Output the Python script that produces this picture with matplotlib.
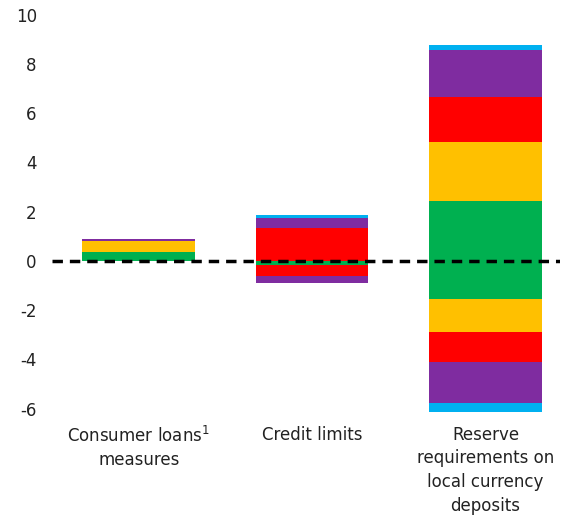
import numpy as np
import matplotlib.pyplot as plt

# categories and stacked values (positive and negative parts per colour)
categories = ['Consumer loans$^{\\mathregular{1}}$\nmeasures', 'Credit limits',
              'Reserve\nrequirements on\nlocal currency\ndeposits']
series = ['green', 'yellow', 'red', 'purple', 'cyan']
pos_vals = {
    'green':  [0.38, 0.00, 2.43],
    'yellow': [0.45, 0.00, 2.41],
    'red':    [0.00, 1.33, 1.81],
    'purple': [0.08, 0.43, 1.94],
    'cyan':   [0.00, 0.10, 0.18],
}
neg_vals = {
    'green':  [0.00, -0.18, -1.53],
    'yellow': [0.00, 0.00, -1.34],
    'red':    [0.00, -0.44, -1.23],
    'purple': [0.00, -0.29, -1.66],
    'cyan':   [0.00, 0.00, -0.36],
}
colors = {'green': '#00B050', 'yellow': '#FFC000', 'red': '#FF0000',
          'purple': '#7F2CA0', 'cyan': '#00B0F0'}
yticks = [-6, -4, -2, 0, 2, 4, 6, 8, 10]

plt.rcParams['font.family'] = ['DejaVu Sans']
plt.rcParams['mathtext.fontset'] = 'dejavusans'
fig = plt.figure(figsize=(5.73, 5.16), dpi=100)
ax = fig.add_axes([0.0908, 0.1938, 0.8866, 0.787])

x = np.arange(len(categories))
pos_base = np.zeros(len(categories))
neg_base = np.zeros(len(categories))
for s in series:
    p = np.array(pos_vals[s])
    n = np.array(neg_vals[s])
    ax.bar(x, p, 0.65, bottom=pos_base, color=colors[s])
    ax.bar(x, n, 0.65, bottom=neg_base, color=colors[s])
    pos_base += p
    neg_base += n

ax.axhline(0, color='black', lw=2.5, ls=(0, (3, 2)), zorder=5)

ax.set_xlim(-0.5, 2.43)
ax.set_ylim(-6.3, 10.2)
ax.set_yticks(yticks)
ax.set_yticklabels([str(v) for v in yticks], fontsize=12, color='#222222')
ax.set_xticks(x)
ax.set_xticklabels(categories, fontsize=12, linespacing=1.4, color='#222222')
ax.tick_params(axis='y', length=0, pad=11)
ax.tick_params(axis='x', length=0, pad=7)
for sp in ax.spines.values():
    sp.set_visible(False)

plt.savefig('out.png')
